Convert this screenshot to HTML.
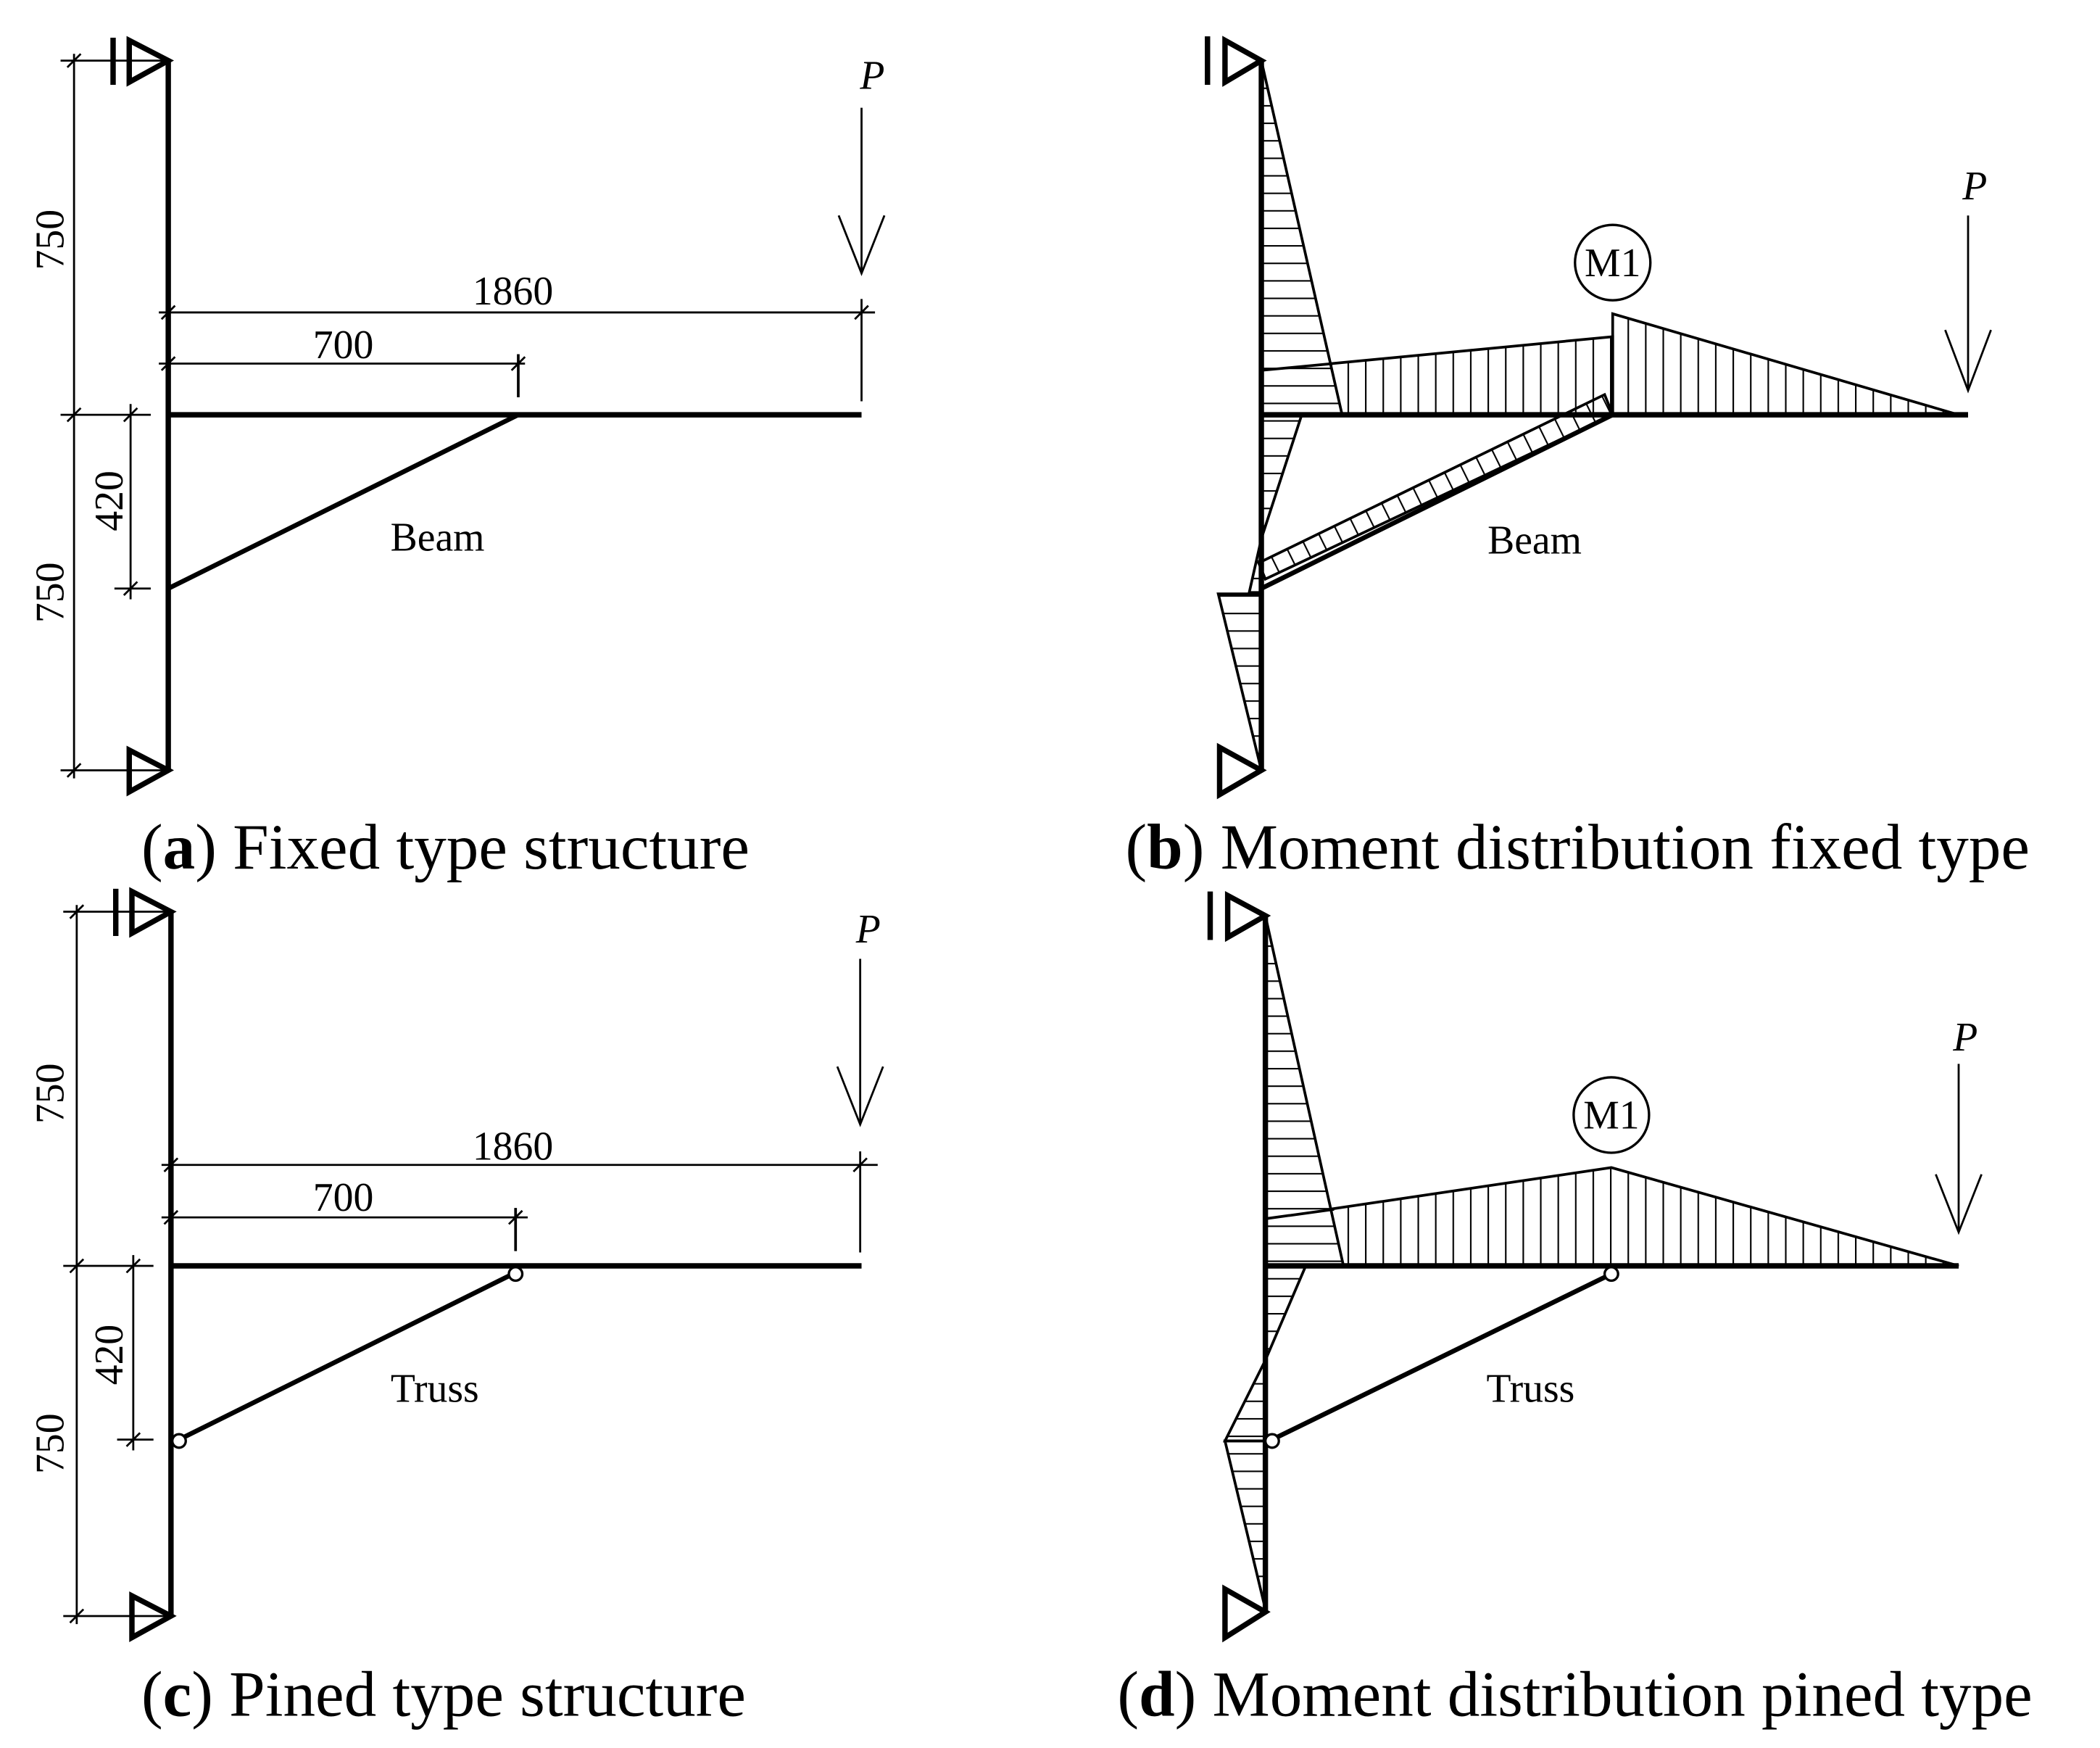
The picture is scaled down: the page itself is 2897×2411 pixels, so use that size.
<!DOCTYPE html>
<html><head><meta charset="utf-8"><style>
html,body{margin:0;padding:0;background:#fff}
svg{display:block}
text{font-family:"Liberation Serif",serif;fill:#000}
</style></head><body>
<svg width="2897" height="2411" viewBox="0 0 1560 1298" preserveAspectRatio="none" xmlns="http://www.w3.org/2000/svg">
<defs>
<pattern id="hh" width="20" height="13" patternUnits="userSpaceOnUse"><line x1="0" y1="0.5" x2="20" y2="0.5" stroke="#000" stroke-width="1.3"/></pattern>
<pattern id="vv" width="13" height="20" patternUnits="userSpaceOnUse"><line x1="0.5" y1="0" x2="0.5" y2="20" stroke="#000" stroke-width="1.3"/></pattern>
<pattern id="dd" width="13" height="20" patternUnits="userSpaceOnUse" patternTransform="rotate(-26.3)"><line x1="0.5" y1="0" x2="0.5" y2="20" stroke="#000" stroke-width="1.3"/></pattern>
</defs>
<g stroke="#000" fill="none" stroke-linecap="butt">

<!-- ===== Panel a ===== -->
<g id="pa">
<line x1="125" y1="45" x2="125" y2="572" stroke-width="4"/>
<polygon points="125,45 96,30 96,61" stroke-width="4" fill="#fff"/>
<line x1="84" y1="28" x2="84" y2="63" stroke-width="4"/>
<polygon points="125,572 96,557 96,588" stroke-width="4" fill="#fff"/>
<line x1="45" y1="45" x2="125" y2="45" stroke-width="1.5"/>
<line x1="45" y1="572" x2="125" y2="572" stroke-width="1.5"/>
<line x1="55" y1="40" x2="55" y2="578" stroke-width="1.5"/>
<line x1="45" y1="308" x2="112" y2="308" stroke-width="1.5"/>
<line x1="50" y1="50" x2="60" y2="40" stroke-width="1.5"/>
<line x1="50" y1="313" x2="60" y2="303" stroke-width="1.5"/>
<line x1="50" y1="577" x2="60" y2="567" stroke-width="1.5"/>
<line x1="97" y1="300" x2="97" y2="445" stroke-width="1.5"/>
<line x1="92" y1="313" x2="102" y2="303" stroke-width="1.5"/>
<line x1="92" y1="442" x2="102" y2="432" stroke-width="1.5"/>
<line x1="85" y1="437" x2="112" y2="437" stroke-width="1.5"/>
<line x1="125" y1="308" x2="640" y2="308" stroke-width="4"/>
<line x1="125" y1="437" x2="385" y2="308" stroke-width="3.5"/>
<line x1="118" y1="270" x2="390" y2="270" stroke-width="1.5"/>
<line x1="120" y1="275" x2="130" y2="265" stroke-width="1.5"/>
<line x1="385" y1="263" x2="385" y2="295" stroke-width="2"/>
<line x1="380" y1="275" x2="390" y2="265" stroke-width="1.5"/>
<line x1="118" y1="232" x2="650" y2="232" stroke-width="1.5"/>
<line x1="120" y1="237" x2="130" y2="227" stroke-width="1.5"/>
<line x1="640" y1="222" x2="640" y2="298" stroke-width="1.5"/>
<line x1="635" y1="237" x2="645" y2="227" stroke-width="1.5"/>
<line x1="640" y1="80" x2="640" y2="203" stroke-width="1.5"/>
<polyline points="623,160 640,203 657,160" stroke-width="1.5"/>
</g>

<!-- ===== Panel c ===== -->
<g transform="translate(2,632)">
<line x1="125" y1="45" x2="125" y2="568" stroke-width="4"/>
<polygon points="125,45 96,30 96,61" stroke-width="4" fill="#fff"/>
<line x1="84" y1="28" x2="84" y2="63" stroke-width="4"/>
<polygon points="125,568 96,553 96,584" stroke-width="4" fill="#fff"/>
<line x1="45" y1="45" x2="125" y2="45" stroke-width="1.5"/>
<line x1="45" y1="568" x2="125" y2="568" stroke-width="1.5"/>
<line x1="55" y1="40" x2="55" y2="574" stroke-width="1.5"/>
<line x1="45" y1="308" x2="112" y2="308" stroke-width="1.5"/>
<line x1="50" y1="50" x2="60" y2="40" stroke-width="1.5"/>
<line x1="50" y1="313" x2="60" y2="303" stroke-width="1.5"/>
<line x1="50" y1="573" x2="60" y2="563" stroke-width="1.5"/>
<line x1="97" y1="300" x2="97" y2="445" stroke-width="1.5"/>
<line x1="92" y1="313" x2="102" y2="303" stroke-width="1.5"/>
<line x1="92" y1="442" x2="102" y2="432" stroke-width="1.5"/>
<line x1="85" y1="437" x2="112" y2="437" stroke-width="1.5"/>
<line x1="125" y1="308" x2="638" y2="308" stroke-width="4"/>
<line x1="131" y1="437" x2="381" y2="313" stroke-width="3.5"/>
<circle cx="131" cy="438" r="5" stroke-width="1.8" fill="#fff"/>
<circle cx="381" cy="314" r="5" stroke-width="1.8" fill="#fff"/>
<line x1="118" y1="272" x2="390" y2="272" stroke-width="1.5"/>
<line x1="120" y1="277" x2="130" y2="267" stroke-width="1.5"/>
<line x1="381" y1="265" x2="381" y2="297" stroke-width="2"/>
<line x1="376" y1="277" x2="386" y2="267" stroke-width="1.5"/>
<line x1="118" y1="233" x2="650" y2="233" stroke-width="1.5"/>
<line x1="120" y1="238" x2="130" y2="228" stroke-width="1.5"/>
<line x1="637" y1="223" x2="637" y2="298" stroke-width="1.5"/>
<line x1="632" y1="238" x2="642" y2="228" stroke-width="1.5"/>
<line x1="637" y1="80" x2="637" y2="203" stroke-width="1.5"/>
<polyline points="620,160 637,203 654,160" stroke-width="1.5"/>
</g>

<!-- ===== Panel b ===== -->
<g>
<polygon points="937,275 1198,250 1198,308 937,308" fill="url(#vv)" stroke-width="2"/>
<polygon points="1198,233 1455,308 1198,308" fill="url(#vv)" stroke-width="2"/>
<polygon points="937,45 997,308 937,308" fill="#fff" stroke="none"/>
<polygon points="937,45 997,308 937,308" fill="url(#hh)" stroke-width="2"/>
<line x1="937" y1="275" x2="990" y2="270" stroke-width="2"/>
<polygon points="937,308 967,308 937,400" fill="url(#hh)" stroke-width="2"/>
<polygon points="937,400 937,440 928,440" fill="url(#hh)" stroke-width="2"/>
<polygon points="905,441 937,441 937,572" fill="url(#hh)" stroke-width="2"/>
<polygon points="940,430 1198,308 1192,293 935,418" fill="url(#dd)" stroke-width="2"/>
<line x1="937" y1="45" x2="937" y2="572" stroke-width="4"/>
<polygon points="937,45 910,30 910,61" stroke-width="4" fill="#fff"/>
<line x1="897" y1="27" x2="897" y2="63" stroke-width="4"/>
<polygon points="937,572 906,555 906,590" stroke-width="4" fill="#fff"/>
<line x1="937" y1="308" x2="1462" y2="308" stroke-width="4"/>
<line x1="937" y1="437" x2="1198" y2="308" stroke-width="3.5"/>
<circle cx="1198" cy="195" r="28" stroke-width="1.8"/>
<line x1="1462" y1="160" x2="1462" y2="290" stroke-width="1.5"/>
<polyline points="1445,245 1462,290 1479,245" stroke-width="1.5"/>
</g>

<!-- ===== Panel d ===== -->
<g>
<polygon points="940,905 1197,867 1455,940 940,940" fill="url(#vv)" stroke-width="2"/>
<polygon points="940,680 998,940 940,940" fill="#fff" stroke="none"/>
<polygon points="940,680 998,940 940,940" fill="url(#hh)" stroke-width="2"/>
<line x1="940" y1="905" x2="991" y2="898" stroke-width="2"/>
<polygon points="940,940 970,940 940,1010" fill="url(#hh)" stroke-width="2"/>
<polygon points="940,1010 910,1070 940,1070" fill="url(#hh)" stroke-width="2"/>
<polygon points="910,1070 940,1070 940,1195" fill="url(#hh)" stroke-width="2"/>
<line x1="940" y1="680" x2="940" y2="1197" stroke-width="4"/>
<polygon points="940,680 912,665 912,696" stroke-width="4" fill="#fff"/>
<line x1="899" y1="662" x2="899" y2="698" stroke-width="4"/>
<polygon points="940,1197 910,1180 910,1216" stroke-width="4" fill="#fff"/>
<line x1="940" y1="940" x2="1455" y2="940" stroke-width="4"/>
<line x1="945" y1="1069" x2="1197" y2="946" stroke-width="3.5"/>
<circle cx="945" cy="1070" r="5" stroke-width="1.8" fill="#fff"/>
<circle cx="1197" cy="946" r="5" stroke-width="1.8" fill="#fff"/>
<circle cx="1197" cy="828" r="28" stroke-width="1.8"/>
<line x1="1455" y1="790" x2="1455" y2="915" stroke-width="1.5"/>
<polyline points="1438,872 1455,915 1472,872" stroke-width="1.5"/>
</g>
</g>

<!-- text -->
<g font-size="30">
<text x="648" y="66" font-style="italic" text-anchor="middle">P</text>
<text x="381" y="226" text-anchor="middle">1860</text>
<text x="255" y="266" text-anchor="middle">700</text>
<text x="325" y="409" text-anchor="middle">Beam</text>
<text transform="translate(47,178) rotate(-90)" text-anchor="middle">750</text>
<text transform="translate(47,440) rotate(-90)" text-anchor="middle">750</text>
<text transform="translate(91,372) rotate(-90)" text-anchor="middle">420</text>

<text x="645" y="700" font-style="italic" text-anchor="middle">P</text>
<text x="381" y="861" text-anchor="middle">1860</text>
<text x="255" y="899" text-anchor="middle">700</text>
<text x="323" y="1041" text-anchor="middle">Truss</text>
<text transform="translate(47,812) rotate(-90)" text-anchor="middle">750</text>
<text transform="translate(47,1072) rotate(-90)" text-anchor="middle">750</text>
<text transform="translate(91,1006) rotate(-90)" text-anchor="middle">420</text>

<text x="1467" y="148" font-style="italic" text-anchor="middle">P</text>
<text x="1198" y="205" text-anchor="middle">M1</text>
<text x="1140" y="411" text-anchor="middle">Beam</text>

<text x="1460" y="780" font-style="italic" text-anchor="middle">P</text>
<text x="1197" y="838" text-anchor="middle">M1</text>
<text x="1137" y="1041" text-anchor="middle">Truss</text>
</g>
<g font-size="48">
<text x="105" y="645">(<tspan font-weight="bold">a</tspan>) Fixed type structure</text>
<text x="836" y="645">(<tspan font-weight="bold">b</tspan>) Moment distribution fixed type</text>
<text x="105" y="1274">(<tspan font-weight="bold">c</tspan>) Pined type structure</text>
<text x="830" y="1274">(<tspan font-weight="bold">d</tspan>) Moment distribution pined type</text>
</g>
</svg>
</body></html>
